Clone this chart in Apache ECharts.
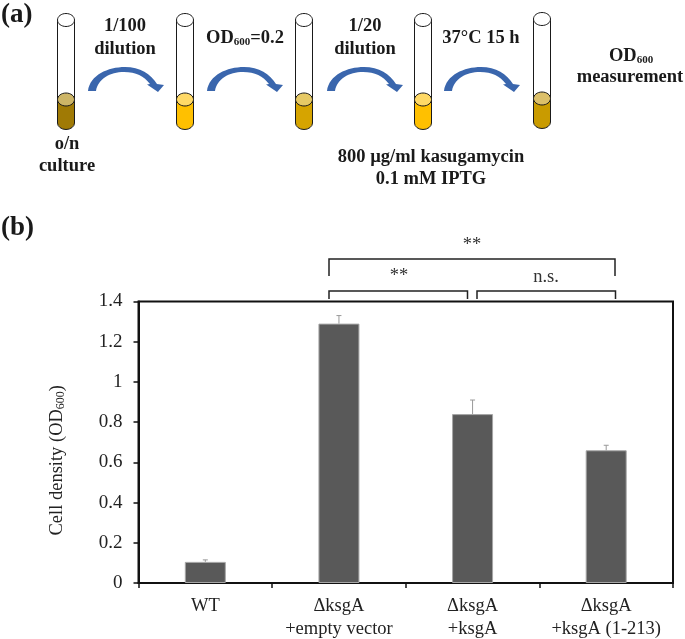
<!DOCTYPE html>
<html>
<head>
<meta charset="utf-8">
<style>
  html, body { margin: 0; padding: 0; background: #fff; }
  #main { width: 685px; height: 639px; }
</style>
<script src="https://cdn.jsdelivr.net/npm/echarts@6/dist/echarts.min.js"></script>
</head>
<body>
<div id="main"></div>
<script>
const categories = ['WT', 'ΔksgA\n+empty vector', 'ΔksgA\n+ksgA', 'ΔksgA\n+ksgA (1-213)']
const cellDensity = [0.105, 1.29, 0.84, 0.66]
const errorTop = [0.115, 1.33, 0.91, 0.685]

// panel (a): tube centre x, liquid colour, liquid top colour
const tubeX = [66, 185, 304, 423, 542]
const tubeLiquid = ['#a07a05', '#ffc000', '#d6a400', '#ffc000', '#c99b00']
const tubeSurface = ['#cdb566', '#ffd966', '#e6c965', '#ffd966', '#dcc06a']
const arrowX = [88, 207, 327, 444]

const serif = '"Liberation Serif", "Times New Roman", serif'
const subRich = {
  sub: { fontFamily: serif, fontSize: 11, fontWeight: 'bold', verticalAlign: 'bottom', padding: [5, 0, 0, 0], fill: '#1a1a1a' }
}

// [text, centre x, centre y]
const panelTexts = [
  ['1/100', 125, 26],
  ['dilution', 125, 49],
  ['{b|OD}{sub|600}{b|=0.2}', 245, 38],
  ['1/20', 365, 26],
  ['dilution', 365, 49],
  ['37°C 15 h', 481, 38],
  ['{b|OD}{sub|600}', 631, 56],
  ['measurement', 630, 77],
  ['o/n', 67, 144],
  ['culture', 67, 166],
  ['800 µg/ml kasugamycin', 431, 157],
  ['0.1 mM IPTG', 431, 179]
]
const sigTexts = [
  ['**', 472, 245],
  ['**', 399, 276],
  ['n.s.', 546, 277]
]
// brackets: left x, right x, top y, bottom y
const brackets = [
  [329, 615, 259, 276],
  [329, 467.5, 291, 299],
  [477, 615.5, 291, 299]
]

const graphic = []

function addTube (i) {
  const x = tubeX[i]
  const dy = i === 4 ? -1 : 0
  const rx = 8.5
  const ry = 6.5
  const line = { stroke: '#1a1a1a', lineWidth: 1 }
  graphic.push({
    type: 'group',
    x: x,
    y: dy,
    children: [
      {
        type: 'path',
        shape: { pathData: `M${-rx} 99.5 L${-rx} 123 A${rx} ${ry} 0 0 0 ${rx} 123 L${rx} 99.5 Z` },
        style: { fill: tubeLiquid[i], stroke: null }
      },
      {
        type: 'path',
        shape: { pathData: `M${-rx} 20 L${-rx} 123 A${rx} ${ry} 0 0 0 ${rx} 123 L${rx} 20` },
        style: { fill: null, stroke: '#1a1a1a', lineWidth: 1 }
      },
      { type: 'ellipse', shape: { cx: 0, cy: 99.5, rx: rx, ry: ry }, style: { fill: tubeSurface[i], ...line } },
      { type: 'ellipse', shape: { cx: 0, cy: 20, rx: rx, ry: ry }, style: { fill: '#fff', ...line } }
    ]
  })
}
tubeX.forEach((x, i) => addTube(i))

arrowX.forEach(x => {
  graphic.push({
    type: 'path',
    x: x,
    y: 67,
    shape: {
      pathData: 'M0 24 C2 8 20 0 37 0 C52 0 63 7 69 17 L76 18 L70 25 L59 17.5 L62 17 C56 9 48 5 36 5 C22 5 10 12 8 24 Z'
    },
    style: { fill: '#3a66ad', stroke: null }
  })
})

panelTexts.forEach(t => {
  graphic.push({
    type: 'text',
    x: t[1],
    y: t[2],
    style: {
      text: t[0],
      fontFamily: serif,
      fontSize: 18.5,
      fontWeight: 'bold',
      fill: '#1a1a1a',
      align: 'center',
      verticalAlign: 'middle',
      rich: { b: { fontFamily: serif, fontSize: 18.5, fontWeight: 'bold', fill: '#1a1a1a' }, ...subRich }
    }
  })
})

;[['(a)', 15], ['(b)', 228]].forEach(t => {
  graphic.push({
    type: 'text',
    x: 1,
    y: t[1],
    style: { text: t[0], fontFamily: serif, fontSize: 27, fontWeight: 'bold', fill: '#1a1a1a', verticalAlign: 'middle' }
  })
})

sigTexts.forEach(t => {
  graphic.push({
    type: 'text',
    x: t[1],
    y: t[2],
    style: { text: t[0], fontFamily: serif, fontSize: 18.5, fill: '#333', align: 'center', verticalAlign: 'middle' }
  })
})

brackets.forEach(b => {
  graphic.push({
    type: 'polyline',
    shape: { points: [[b[0], b[3]], [b[0], b[2]], [b[1], b[2]], [b[1], b[3]]] },
    style: { fill: null, stroke: '#222', lineWidth: 1.5 }
  })
})

const myChart = echarts.init(document.getElementById('main'), null, { renderer: 'canvas' })

myChart.setOption({
  animation: false,
  backgroundColor: '#fff',
  textStyle: { fontFamily: serif },
  grid: {
    left: 138.5,
    top: 301.5,
    width: 534.5,
    height: 281.5,
    outerBoundsMode: 'none',
    show: true,
    borderColor: '#111',
    borderWidth: 2,
    backgroundColor: 'transparent'
  },
  xAxis: {
    type: 'category',
    data: categories,
    boundaryGap: true,
    axisLine: { lineStyle: { color: '#111', width: 2 } },
    axisTick: { show: true, length: 5, lineStyle: { color: '#111', width: 1.5 } },
    axisLabel: { interval: 0, color: '#222', fontFamily: serif, fontSize: 18.5, lineHeight: 23, margin: 12 }
  },
  yAxis: {
    type: 'value',
    min: 0,
    max: 1.4,
    interval: 0.2,
    name: '{t|Cell density (OD}{s|600}{t|)}',
    nameLocation: 'middle',
    nameRotate: 90,
    nameGap: 72,
    nameTextStyle: {
      padding: [0, 36, 0, 0],
      rich: {
        t: { fontFamily: serif, fontSize: 18.5, color: '#222' },
        s: { fontFamily: serif, fontSize: 12, color: '#222', verticalAlign: 'bottom', padding: [5, 0, 0, 0] }
      }
    },
    splitLine: { show: false },
    axisLine: { show: true, lineStyle: { color: '#111', width: 2 } },
    axisTick: { show: true, length: 5, lineStyle: { color: '#111', width: 1.5 } },
    axisLabel: { color: '#222', fontFamily: serif, fontSize: 19, margin: 16 }
  },
  series: [
    {
      type: 'bar',
      data: cellDensity,
      barWidth: 41,
      itemStyle: { color: '#595959', borderColor: '#a6a6a6', borderWidth: 1 }
    },
    {
      // 误差线 只画上半部分
      type: 'custom',
      data: errorTop.map((v, i) => [i, cellDensity[i], v]),
      encode: { x: 0, y: [1, 2] },
      z: 3,
      renderItem: (params, api) => {
        const from = api.coord([api.value(0), api.value(1)])
        const to = api.coord([api.value(0), api.value(2)])
        const style = { stroke: '#999', lineWidth: 1, fill: null }
        return {
          type: 'group',
          children: [
            { type: 'line', shape: { x1: from[0], y1: from[1], x2: to[0], y2: to[1] }, style: style },
            { type: 'line', shape: { x1: to[0] - 2.5, y1: to[1], x2: to[0] + 2.5, y2: to[1] }, style: style }
          ]
        }
      }
    },
    {
      // panel (a) 和显著性括号
      type: 'custom',
      coordinateSystem: 'none',
      data: [0],
      silent: true,
      renderItem: () => ({ type: 'group', children: graphic })
    }
  ]
})
</script>
</body>
</html>
